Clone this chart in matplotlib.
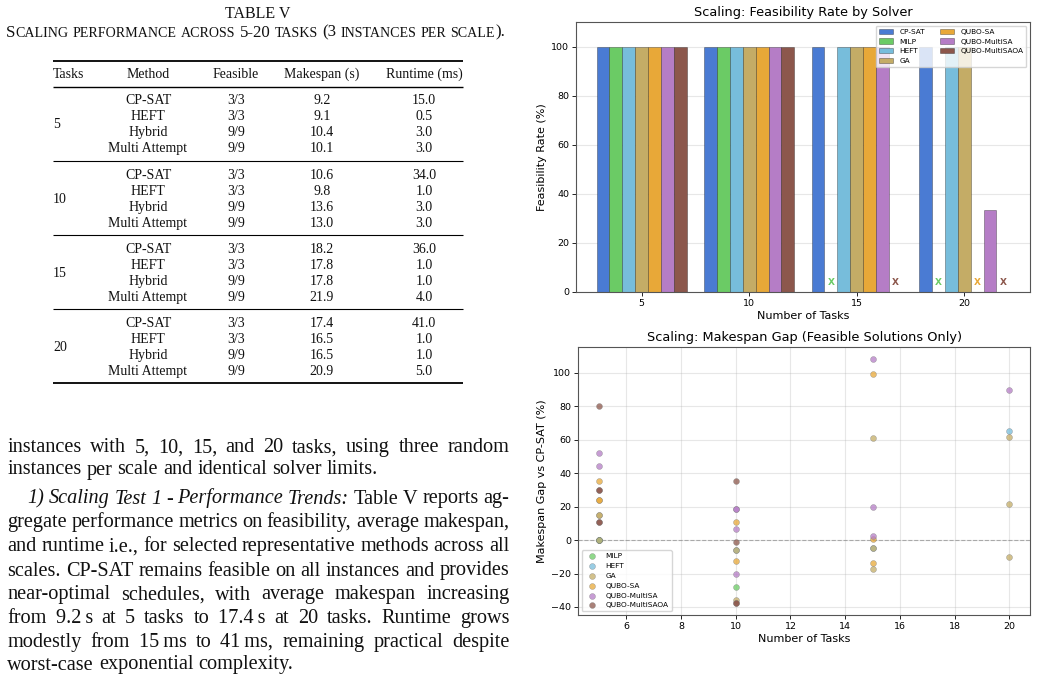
"""Scaling page: Table V + body text on the left, feasibility bars and makespan-gap scatter on the right."""

import matplotlib
matplotlib.use("Agg")
import matplotlib.pyplot as plt
import numpy as np

# ─── Table V data ───
TASKS = [5, 10, 15, 20]
METHODS = ["CP-SAT", "HEFT", "Hybrid", "Multi Attempt"]
FEASIBLE = [["3/3", "3/3", "9/9", "9/9"]] * 4
MAKESPAN = [
    [9.2, 9.1, 10.4, 10.1],
    [10.6, 9.8, 13.6, 13.0],
    [18.2, 17.8, 17.8, 21.9],
    [17.4, 16.5, 16.5, 20.9],
]
RUNTIME = [
    [15.0, 0.5, 3.0, 3.0],
    [34.0, 1.0, 3.0, 3.0],
    [36.0, 1.0, 1.0, 4.0],
    [41.0, 1.0, 1.0, 5.0],
]

# ─── Feasibility rate (%) per solver, one value per task count ───
SOLVERS = ["CP-SAT", "MILP", "HEFT", "GA", "QUBO-SA", "QUBO-MultiSA", "QUBO-MultiSAOA"]
FEAS_CPSAT = [100, 100, 100, 100]
FEAS_MILP = [100, 100, 0, 0]
FEAS_HEFT = [100, 100, 100, 100]
FEAS_GA = [100, 100, 100, 100]
FEAS_QUBO_SA = [100, 100, 100, 0]
FEAS_MULTISA = [100, 100, 100, 33.3]
FEAS_MULTISAOA = [100, 100, 0, 0]

# ─── Makespan gap vs CP-SAT (%), feasible solutions only ───
GAP_MILP_X = [5, 5, 5, 10]
GAP_MILP = [0, 0, 0, -28.1]
GAP_HEFT_X = [5, 10, 15, 20]
GAP_HEFT = [0, -5.7, -4.5, 65.4]
GAP_GA_X = [5, 5, 5, 10, 10, 15, 15, 15, 20, 20, 20]
GAP_GA = [0, 15.2, 15.2, -5.7, -35.6, 61.2, -4.5, -17.2, 61.9, 21.7, -10.4]
GAP_QUBO_SA_X = [5, 5, 5, 10, 10, 15, 15, 15]
GAP_QUBO_SA = [35.2, 23.7, 23.7, 10.6, -12.4, 99.0, 0.7, -13.8]
GAP_MULTISA_X = [5, 5, 10, 10, 10, 10, 15, 15, 15, 20]
GAP_MULTISA = [51.9, 44.2, 18.4, 18.4, 6.8, -20.5, 108.3, 19.6, 2.5, 90.0]
GAP_MULTISAOA_X = [5, 5, 5, 5, 5, 10, 10, 10, 10]
GAP_MULTISAOA = [80.1, 30.2, 30.2, 10.8, 10.8, 35.6, -0.9, -37.5, -37.5]

COLORS = {
    "CP-SAT": "#4a7bd3",
    "MILP": "#6bcb65",
    "HEFT": "#77bddb",
    "GA": "#c4ac66",
    "QUBO-SA": "#e8a838",
    "QUBO-MultiSA": "#b57dc6",
    "QUBO-MultiSAOA": "#8c574c",
}

SERIF = ["Liberation Serif", "DejaVu Serif"]
TEXT_COLOR = "#111111"

fig = plt.figure(figsize=(10.37, 6.80), dpi=100)
fig.patch.set_facecolor("white")

# page axes in pixel units for the typeset part
page = fig.add_axes([0, 0, 1, 1])
page.set_xlim(0, 1037)
page.set_ylim(680, 0)
page.axis("off")
renderer = fig.canvas.get_renderer()


def word_width(txt, size, style="normal"):
    t = page.text(0, 0, txt, fontsize=size, family=SERIF, style=style)
    w = t.get_window_extent(renderer).width
    t.remove()
    return w


def draw_pieces(x, y, pieces):
    """pieces: list of (text, size, style) drawn next to each other."""
    for txt, size, style in pieces:
        page.text(x, y, txt, fontsize=size, family=SERIF, style=style,
                  va="baseline", ha="left", color=TEXT_COLOR)
        x += word_width(txt, size, style)
    return x


# ─── Table caption (small caps imitation) ───
CAP_BIG, CAP_SMALL = 12.2, 10.1
page.text(257.5, 18.3, "TABLE V", fontsize=11.5, family=SERIF,
          ha="center", va="baseline", color=TEXT_COLOR)
caption_words = [
    [("S", CAP_BIG, "normal"), ("CALING", CAP_SMALL, "normal")],
    [("PERFORMANCE", CAP_SMALL, "normal")],
    [("ACROSS", CAP_SMALL, "normal")],
    [("5-20", CAP_BIG, "normal")],
    [("TASKS", CAP_SMALL, "normal")],
    [("(3", CAP_BIG, "normal")],
    [("INSTANCES", CAP_SMALL, "normal")],
    [("PER", CAP_SMALL, "normal")],
    [("SCALE", CAP_SMALL, "normal"), (").", CAP_BIG, "normal")],
]
cap_space = CAP_BIG * 100 / 72 * 0.25
widths = [sum(word_width(t, s, st) for t, s, st in w) for w in caption_words]
total = sum(widths) + cap_space * (len(widths) - 1)
cx = 255.5 - total / 2
for w, wd in zip(caption_words, widths):
    draw_pieces(cx, 36.7, w)
    cx += wd + cap_space

# ─── Table body ───
TFS = 10.0
TL, TR = 52.7, 463.3
page.plot([TL, TR], [60.7, 60.7], color="black", lw=1.3, solid_capstyle="butt")
page.plot([TL, TR], [87.3, 87.3], color="black", lw=1.0, solid_capstyle="butt")
header = [("Tasks", 53, "left"), ("Method", 148, "center"), ("Feasible", 236, "center"),
          ("Makespan (s)", 322, "center"), ("Runtime (ms)", 424, "center")]
for txt, x, ha in header:
    page.text(x, 78.3, txt, fontsize=TFS, family=SERIF, ha=ha, va="baseline", color=TEXT_COLOR)

GROUP_STEP = 74.3
ROW_STEP = 16.0
for g, n_tasks in enumerate(TASKS):
    base = 104.3 + g * GROUP_STEP
    page.text(53, base + 1.5 * ROW_STEP, str(n_tasks), fontsize=TFS, family=SERIF,
              ha="left", va="baseline", color=TEXT_COLOR)
    for r, method in enumerate(METHODS):
        y = base + r * ROW_STEP
        page.text(148, y, method, fontsize=TFS, family=SERIF, ha="center", va="baseline", color=TEXT_COLOR)
        page.text(236, y, FEASIBLE[g][r], fontsize=TFS, family=SERIF, ha="center", va="baseline", color=TEXT_COLOR)
        page.text(322, y, f"{MAKESPAN[g][r]:.1f}", fontsize=TFS, family=SERIF, ha="center", va="baseline", color=TEXT_COLOR)
        page.text(424, y, f"{RUNTIME[g][r]:.1f}", fontsize=TFS, family=SERIF, ha="center", va="baseline", color=TEXT_COLOR)
    rule_y = 161.0 + g * 74.1
    lw = 1.3 if g == len(TASKS) - 1 else 0.8
    if g == len(TASKS) - 1:
        rule_y = 383.3
    page.plot([TL, TR], [rule_y, rule_y], color="black", lw=lw, solid_capstyle="butt")

# ─── Body text (justified) ───
BFS = 14.6
BODY_L, BODY_R = 7.3, 509.3
body_lines = [
    ([("instances with 5, 10, 15, and 20 tasks, using three random", "normal")], BODY_L, True, 452.2),
    ([("instances per scale and identical solver limits.", "normal")], BODY_L, False, 474.5),
    ([("1) Scaling Test 1 - Performance Trends:", "italic"), ("Table V reports ag-", "normal")], 27.3, True, 503.5),
    ([("gregate performance metrics on feasibility, average makespan,", "normal")], BODY_L, True, 526.8),
    ([("and runtime i.e., for selected representative methods across all", "normal")], BODY_L, True, 551.2),
    ([("scales. CP-SAT remains feasible on all instances and provides", "normal")], BODY_L, True, 575.5),
    ([("near-optimal schedules, with average makespan increasing", "normal")], BODY_L, True, 599.5),
    ([("from 9.2\u2009s at 5 tasks to 17.4\u2009s at 20 tasks. Runtime grows", "normal")], BODY_L, True, 622.8),
    ([("modestly from 15\u2009ms to 41\u2009ms, remaining practical despite", "normal")], BODY_L, True, 646.8),
    ([("worst-case exponential complexity.", "normal")], BODY_L, False, 669.5),
]
space_w = BFS * 100 / 72 * 0.25
for segments, x0, justify, y in body_lines:
    words = [(w, st) for txt, st in segments for w in txt.split(" ")]
    ws = [word_width(w, BFS, st) for w, st in words]
    gap = (BODY_R - x0 - sum(ws)) / (len(words) - 1) if justify else space_w
    x = x0
    for (w, st), wd in zip(words, ws):
        page.text(x, y, w, fontsize=BFS, family=SERIF, style=st, va="baseline",
                  ha="left", color=TEXT_COLOR)
        x += wd + gap

# ─── Top chart: feasibility bars ───
SPINE = "#555555"
ax_bar = fig.add_axes([0.5554, 0.5706, 0.4378, 0.397])
feas_series = [FEAS_CPSAT, FEAS_MILP, FEAS_HEFT, FEAS_GA, FEAS_QUBO_SA, FEAS_MULTISA, FEAS_MULTISAOA]
x = np.arange(len(TASKS))
width = 0.12
for i, (solver, vals) in enumerate(zip(SOLVERS, feas_series)):
    pos = x + (i - 3) * width
    ax_bar.bar(pos, vals, width, color=COLORS[solver], edgecolor=(0, 0, 0, 0.35),
               linewidth=0.6, label=solver, zorder=2)
    for p, v in zip(pos, vals):
        if v == 0:
            ax_bar.text(p, 4, "X", color=COLORS[solver], fontsize=6.5, fontweight="bold",
                        ha="center", va="center", zorder=3)
ax_bar.set_xticks(x)
ax_bar.set_xticklabels([str(t) for t in TASKS])
ax_bar.set_ylim(0, 110)
ax_bar.set_xlabel("Number of Tasks", fontsize=8, labelpad=2)
ax_bar.set_ylabel("Feasibility Rate (%)", fontsize=8, labelpad=3)
ax_bar.set_title("Scaling: Feasibility Rate by Solver", fontsize=9.3, pad=4)
ax_bar.grid(True, axis="y", alpha=0.3, zorder=0)
ax_bar.set_axisbelow(True)
ax_bar.tick_params(labelsize=6.8, length=3, width=0.6, pad=2)
ax_bar.legend(loc="upper right", ncol=2, fontsize=5.3, framealpha=0.8)
for sp in ax_bar.spines.values():
    sp.set_color(SPINE)

# ─── Bottom chart: makespan gap scatter ───
ax_sc = fig.add_axes([0.5577, 0.0956, 0.4355, 0.3945])
gap_series = [
    ("MILP", GAP_MILP_X, GAP_MILP),
    ("HEFT", GAP_HEFT_X, GAP_HEFT),
    ("GA", GAP_GA_X, GAP_GA),
    ("QUBO-SA", GAP_QUBO_SA_X, GAP_QUBO_SA),
    ("QUBO-MultiSA", GAP_MULTISA_X, GAP_MULTISA),
    ("QUBO-MultiSAOA", GAP_MULTISAOA_X, GAP_MULTISAOA),
]
for solver, xs, ys in gap_series:
    ax_sc.scatter(xs, ys, s=18, color=COLORS[solver], alpha=0.75,
                  edgecolor="#777777", linewidth=0.3, label=solver, zorder=3)
ax_sc.axhline(0, color="gray", linestyle="--", linewidth=0.8, alpha=0.6, zorder=1)
ax_sc.set_xlabel("Number of Tasks", fontsize=8, labelpad=2)
ax_sc.set_ylabel("Makespan Gap vs CP-SAT (%)", fontsize=8, labelpad=3)
ax_sc.set_title("Scaling: Makespan Gap (Feasible Solutions Only)", fontsize=9.3, pad=4)
ax_sc.grid(True, alpha=0.3, zorder=0)
ax_sc.set_axisbelow(True)
ax_sc.tick_params(labelsize=6.8, length=3, width=0.6, pad=2)
ax_sc.legend(loc="lower left", fontsize=5.3, framealpha=0.8)
for sp in ax_sc.spines.values():
    sp.set_color(SPINE)

fig.savefig("out.png", dpi=100, facecolor="white")
